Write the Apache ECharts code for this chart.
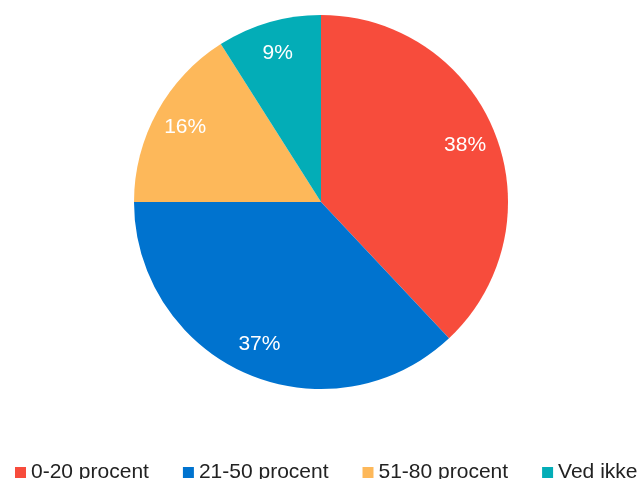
<!DOCTYPE html>
<html>
<head>
<meta charset="utf-8">
<script src="https://cdn.jsdelivr.net/npm/echarts@6/dist/echarts.min.js"></script>
<style>
  html, body { margin: 0; padding: 0; background: #fff; }
  #chart { width: 638px; height: 479px; }
</style>
</head>
<body>
<div id="chart"></div>
<script>
// 数据
const categories = ['0-20 procent', '21-50 procent', '51-80 procent', 'Ved ikke'];
const shares = [38, 37, 16, 9];
const colors = ['#F74C3C', '#0073CF', '#FDB85A', '#03ADB7'];

const chart = echarts.init(document.getElementById('chart'));

const pieData = categories.map((name, i) => ({
  name: name,
  value: shares[i],
  itemStyle: { color: colors[i] }
}));

const option = {
  animation: false,
  legend: {
    data: categories,
    left: 10,
    top: 457,
    width: 1000,
    itemWidth: 11,
    itemHeight: 11,
    itemGap: 34,
    icon: 'rect',
    textStyle: {
      fontFamily: 'Liberation Sans, Arial, sans-serif',
      fontSize: 21,
      color: '#222'
    }
  },
  series: [
    {
      name: 'pie',
      type: 'pie',
      center: [321, 202],
      radius: 187,
      startAngle: 90,
      clockwise: true,
      label: { show: false },
      labelLine: { show: false },
      itemStyle: { borderWidth: 0 },
      emphasis: { disabled: true },
      data: pieData
    },
    {
      // 只用来放百分比标签
      name: 'labels',
      type: 'pie',
      center: [321, 202],
      radius: [117, 187],
      startAngle: 90,
      clockwise: true,
      silent: true,
      legendHoverLink: false,
      itemStyle: { color: 'rgba(0,0,0,0)', borderWidth: 0 },
      label: {
        show: true,
        position: 'inside',
        formatter: '{c}%',
        color: '#fff',
        fontFamily: 'Liberation Sans, Arial, sans-serif',
        fontSize: 21
      },
      labelLine: { show: false },
      emphasis: { disabled: true },
      data: categories.map((name, i) => ({ name: name, value: shares[i] }))
    }
  ]
};

chart.setOption(option);
</script>
</body>
</html>
